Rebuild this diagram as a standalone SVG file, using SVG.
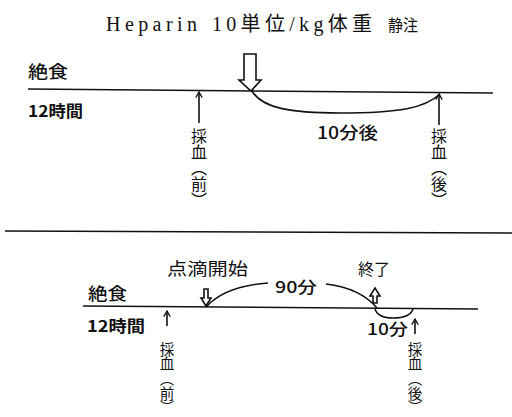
<svg xmlns="http://www.w3.org/2000/svg" width="512" height="417" viewBox="0 0 512 417">
<defs>
<style>
.t{font-family:"Noto Sans CJK JP","Liberation Sans",sans-serif;fill:#111;}
.ti{font-family:"Liberation Serif","Noto Sans CJK JP",serif;fill:#111;font-size:20px;}
.b{font-weight:bold;}
.m{font-weight:500;}
.v{font-family:"Noto Sans CJK JP",sans-serif;fill:#111;font-size:16px;writing-mode:vertical-rl;}
.vs{font-size:14.6px;}
.ln{stroke:#111;fill:none;stroke-width:1.6;}
.hol{stroke:#111;fill:#fff;stroke-width:1.6;stroke-linejoin:miter;}
</style>
<marker id="ah" viewBox="0 0 10 10" refX="9" refY="5" markerWidth="8" markerHeight="8" orient="auto" markerUnits="userSpaceOnUse">
<path d="M2,1 L9,5 L2,9" fill="none" stroke="#111" stroke-width="1.6"/>
</marker>
</defs>
<rect width="512" height="417" fill="#fff"/>
<g id="title">
<text class="ti" x="106" y="31" textLength="91" lengthAdjust="spacing">Heparin</text>
<text class="ti" x="212" y="31" textLength="160" lengthAdjust="spacing">10単位/kg体重</text>
<text class="ti" x="388" y="31" font-size="16" style="font-size:16px" textLength="30" lengthAdjust="spacingAndGlyphs">静注</text>
</g>
<g id="connectors">
<path class="ln" d="M28,89 L493,93"/>
<path class="ln" d="M252,91 C262,108 290,113 340,113 C400,113 425,108 440,94"/>
<path class="ln" d="M199,123 L199,92" marker-end="url(#ah)"/>
<path class="ln" d="M439,125 L439,94" marker-end="url(#ah)"/>
<path class="ln" d="M5,231 L512,233" stroke-width="2"/>
<path class="ln" d="M83,306 L478,309" stroke-width="2.6"/>
<path class="ln" d="M206,307 Q225,286 268,283"/>
<path class="ln" d="M326,284 Q360,288 377,308"/>
<path class="ln" d="M375,309 Q378,318 393,318 Q410,318 413,309"/>
<path class="ln" d="M167,326 L167,311" marker-end="url(#ah)"/>
<path class="ln" d="M415,334 L415,319" marker-end="url(#ah)"/>
</g>
<g id="inject-arrow">
<path class="hol" d="M244,54 L256,54 L256,80 L261,80 L251,91 L239,80 L244,80 Z"/>
</g>
<g id="drip-start-arrow">
<path class="hol" d="M204,289 L208,289 L208,298 L211,298 L206,306 L201,298 L204,298 Z"/>
</g>
<g id="drip-end-arrow">
<path class="hol" d="M373,303 L377,303 L377,296 L380,296 L375,288 L370,296 L373,296 Z"/>
</g>
<g id="top-labels">
<text class="t m" x="28" y="78" font-size="17" textLength="40" lengthAdjust="spacingAndGlyphs">絶食</text>
<text class="t b" x="28" y="117" font-size="16" textLength="55" lengthAdjust="spacingAndGlyphs">12時間</text>
<text class="t m" x="317" y="139" font-size="17" textLength="61" lengthAdjust="spacingAndGlyphs">10分後</text>
</g>
<g id="top-sample-before">
<text class="v" x="199" y="128">採血（前）</text>
</g>
<g id="top-sample-after">
<text class="v" x="439" y="128">採血（後）</text>
</g>
<g id="bottom-labels">
<text class="t m" x="88" y="300" font-size="17" textLength="39" lengthAdjust="spacingAndGlyphs">絶食</text>
<text class="t b" x="87" y="332" font-size="16" textLength="58" lengthAdjust="spacingAndGlyphs">12時間</text>
<text class="t" x="167" y="275" font-size="17" textLength="81" lengthAdjust="spacingAndGlyphs">点滴開始</text>
<text class="t m" x="275" y="293" font-size="16" textLength="42" lengthAdjust="spacingAndGlyphs">90分</text>
<text class="t" x="358" y="275" font-size="16" textLength="32" lengthAdjust="spacingAndGlyphs">終了</text>
<text class="t m" x="367" y="335" font-size="16" textLength="41" lengthAdjust="spacingAndGlyphs">10分</text>
</g>
<g id="bottom-sample-before">
<text class="v vs" x="167" y="342">採血（前）</text>
</g>
<g id="bottom-sample-after">
<text class="v vs" x="415" y="342">採血（後）</text>
</g>
</svg>
